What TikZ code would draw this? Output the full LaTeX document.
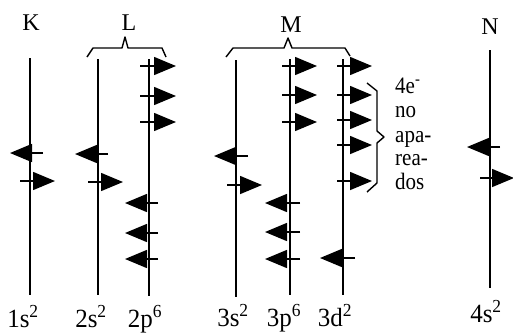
\documentclass[tikz,border=0pt]{standalone}
\usepackage{fontspec}
\setmainfont{Liberation Serif}
\usetikzlibrary{arrows.meta}
\newcommand{\vst}[2][1.05]{\scalebox{1}[#1]{#2}}
\begin{document}
\begin{tikzpicture}[x=1pt,y=-1pt,
  orb/.style={line width=1.6pt},
  spin/.style={line width=1.5pt,-{Triangle[length=22pt,width=18pt]}},
  lab/.style={anchor=base,inner sep=0pt,font=\fontsize{25}{25}\selectfont},
  shell/.style={anchor=base,inner sep=0pt,font=\fontsize{24}{24}\selectfont},
  note/.style={anchor=base west,inner sep=0pt,font=\fontsize{21}{21}\selectfont},
  brc/.style={line width=1.4pt,line join=round}]
\useasboundingbox (0,0) rectangle (513,333);
% orbital lines
\coordinate (k1) at (30,58);  \coordinate (k2) at (30,295);
\coordinate (a1) at (98,59);  \coordinate (a2) at (98,295);
\coordinate (b1) at (149,59); \coordinate (b2) at (149,296);
\coordinate (c1) at (236,60); \coordinate (c2) at (236,297);
\coordinate (d1) at (290,59); \coordinate (d2) at (290,295);
\coordinate (e1) at (343,59); \coordinate (e2) at (343,295);
\coordinate (n1) at (490,50); \coordinate (n2) at (490,288);
\foreach \p in {k,a,b,c,d,e,n} \draw[orb] (\p1) -- (\p2);
% spins
\draw[spin] (43,153) -- (10,153);
\draw[spin] (20,181) -- (55,181);
\draw[spin] (108,154) -- (75,154);
\draw[spin] (88,182) -- (123,182);
\foreach \y in {66,96,122} \draw[spin] (140,\y) -- (176,\y);
\foreach \y in {203,233,259} \draw[spin] (158,\y) -- (125,\y);
\draw[spin] (248,156) -- (214,156);
\draw[spin] (227,185) -- (262,185);
\foreach \y in {66,95,122} \draw[spin] (282,\y) -- (317,\y);
\foreach \y in {203,232,259} \draw[spin] (300,\y) -- (265,\y);
\foreach \y in {66,95,120,145,181} \draw[spin] (337,\y) -- (372,\y);
\draw[spin] (355,258) -- (320,258);
\draw[spin] (500,147) -- (467,147);
\draw[spin] (480,178) -- (514,178);
% braces
\draw[brc] (87,57) -- (93,48) -- (122,48) -- (125,37) -- (128,48) -- (162,48) -- (166,57);
\draw[brc] (226,57) -- (233,48) -- (284,48) -- (288,38) -- (292,48) -- (345,48) -- (350,56);
\draw[brc] (367,83) -- (377,91) -- (377,131) -- (384,137) -- (377,143) -- (377,183) -- (367,192);
% shell labels
\node[shell] (K) at (31,30) {\vst[1]{K}};
\node[shell] (L) at (129,30) {\vst[1]{L}};
\node[shell] (M) at (291,32) {\vst[1]{M}};
\node[shell] (N) at (490,34) {\vst[1]{N}};
% orbital labels
\node[lab] (l1) at (23,327) {\vst{1s\textsuperscript{2}}};
\node[lab] (l2) at (91,327) {\vst{2s\textsuperscript{2}}};
\node[lab] (l3) at (145,327) {\vst{2p\textsuperscript{6}}};
\node[lab] (l4) at (233,326) {\vst{3s\textsuperscript{2}}};
\node[lab] (l5) at (284,326) {\vst{3p\textsuperscript{6}}};
\node[lab] (l6) at (335,326) {\vst{3d\textsuperscript{2}}};
\node[lab] (l7) at (486,322) {\vst{4s\textsuperscript{2}}};
% note
\node[note] (t1) at (395,93) {\vst[1.12]{4e\textsuperscript{-}}};
\node[note] (t2) at (395,117) {\vst[1.12]{no}};
\node[note] (t3) at (395,142) {\vst[1.12]{apa-}};
\node[note] (t4) at (395,165) {\vst[1.12]{rea-}};
\node[note] (t5) at (395,189) {\vst[1.12]{dos}};
\end{tikzpicture}
\end{document}
